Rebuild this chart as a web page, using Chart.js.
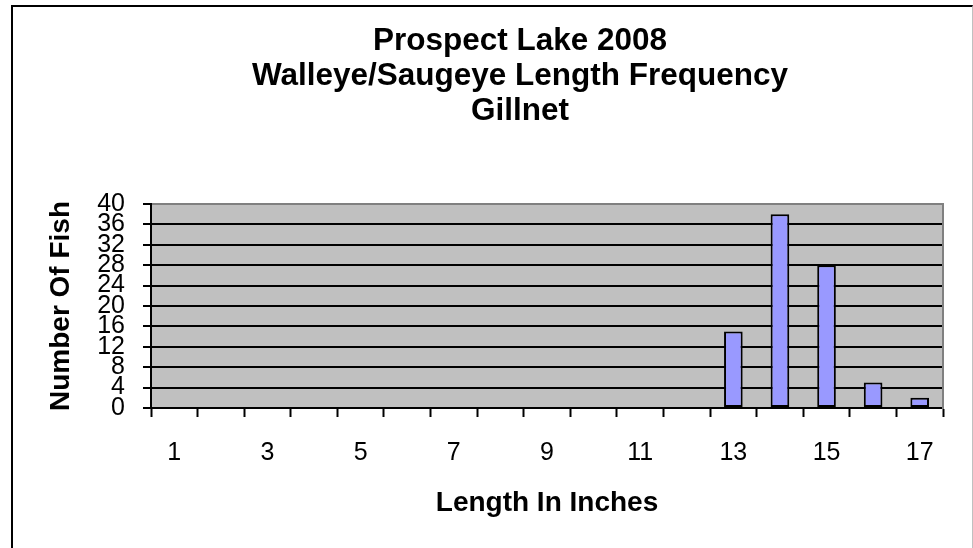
<!DOCTYPE html>
<html>
<head>
<meta charset="utf-8">
<script src="https://cdn.jsdelivr.net/npm/chart.js@4"></script>
<style>
  html, body { margin: 0; padding: 0; overflow: hidden; background: #fff; width: 973px; height: 548px; }
  #wrap { position: absolute; left: 0; top: 0; width: 1040px; height: 548px; }
  #frame { position: absolute; left: 11px; top: 5px; width: 959px; height: 620px;
           border-left: 2px solid #000; border-top: 2px solid #000; border-right: 1px solid #c0c0c0;
           pointer-events: none; }
</style>
</head>
<body>
<div id="wrap"><canvas id="c" width="1040" height="548"></canvas></div>
<div id="frame"></div>
<script>
// ---- data ----
const lengthCategories = ['1','2','3','4','5','6','7','8','9','10','11','12','13','14','15','16','17'];
const fishCounts = [0,0,0,0,0,0,0,0,0,0,0,0,15,38,28,5,2];
const yTickMin = 0;
const yTickMax = 40;
const yTickStep = 4;
const titleLines = ['Prospect Lake 2008', 'Walleye/Saugeye Length Frequency', 'Gillnet'];
const xAxisTitle = 'Length In Inches';
const yAxisTitle = 'Number Of Fish';

const FONT = "'Liberation Sans', Arial, sans-serif";

const plotBg = {
  id: 'plotBg',
  beforeDraw(chart) {
    const {ctx, chartArea: a} = chart;
    ctx.save();
    ctx.fillStyle = '#C0C0C0';
    ctx.fillRect(a.left, a.top, a.right - a.left, a.bottom - a.top);
    ctx.restore();
  }
};

new Chart(document.getElementById('c'), {
  type: 'bar',
  data: {
    labels: lengthCategories,
    datasets: [{
      data: fishCounts,
      backgroundColor: '#9999FF',
      borderColor: '#000000',
      borderWidth: 2,
      borderSkipped: false,
      categoryPercentage: 1.0,
      barPercentage: 0.4,
      yAxisID: 'y'
    }]
  },
  options: {
    responsive: false,
    animation: false,
    devicePixelRatio: 1,
    layout: { padding: { left: 0, right: 0, top: 0, bottom: 0 } },
    plugins: {
      legend: { display: false },
      tooltip: { enabled: false },
      title: {
        display: true,
        text: titleLines,
        color: '#000',
        font: { family: FONT, size: 31.5, weight: 'bold', lineHeight: 35/31.5 },
        padding: { top: 24, bottom: 75 }
      }
    },
    scales: {
      x: {
        type: 'category',
        offset: true,
        grid: {
          display: true,
          offset: true,
          drawOnChartArea: false,
          drawTicks: true,
          tickLength: 9,
          tickColor: '#000',
          tickWidth: 2
        },
        border: { display: true, color: '#000', width: 2 },
        ticks: {
          autoSkip: false,
          maxRotation: 0,
          minRotation: 0,
          padding: 21,
          color: '#000',
          font: { family: FONT, size: 25 },
          callback: function(value, index) { return index % 2 === 0 ? this.getLabelForValue(value) : ''; }
        },
        title: {
          display: true,
          text: xAxisTitle,
          color: '#000',
          font: { family: FONT, size: 28, weight: 'bold' },
          padding: { top: 10, bottom: 28 }
        },
        afterFit(scale) { scale.height = 140; }
      },
      y: {
        position: 'left',
        min: yTickMin,
        max: yTickMax,
        grid: {
          display: true,
          drawOnChartArea: true,
          drawTicks: true,
          tickLength: 8,
          lineWidth: 2,
          color: (ctx) => (ctx.tick && ctx.tick.value === yTickMax) ? '#808080' : '#000000',
          tickColor: '#000',
          tickWidth: 2
        },
        border: { display: true, color: '#000', width: 2 },
        ticks: {
          stepSize: yTickStep,
          autoSkip: false,
          padding: 18,
          color: '#000',
          font: { family: FONT, size: 25 }
        },
        title: {
          display: true,
          text: yAxisTitle,
          color: '#000',
          font: { family: FONT, size: 28, weight: 'bold' },
          padding: { top: 44, bottom: 10 }
        },
        afterFit(scale) { scale.width = 151; }
      },
      yRight: {
        position: 'right',
        min: yTickMin,
        max: yTickMax,
        grid: { display: false, drawOnChartArea: false, drawTicks: false },
        border: { display: true, color: '#808080', width: 2 },
        ticks: { display: false },
        afterFit(scale) { scale.width = 97; }
      }
    }
  },
  plugins: [plotBg]
});
</script>
</body>
</html>
